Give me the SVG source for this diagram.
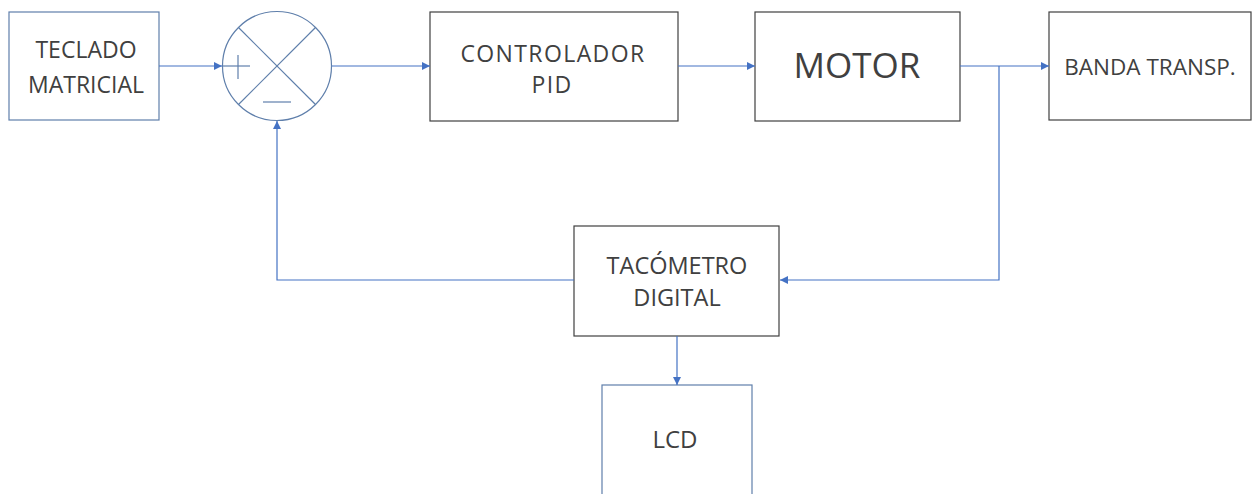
<svg xmlns="http://www.w3.org/2000/svg" width="1252" height="494" viewBox="0 0 1252 494">
<style>
.bx{fill:#fff;stroke:#404040;stroke-width:1.2}
.bb{fill:#fff;stroke:#5f7fab;stroke-width:1.2}
.t{font-family:"Open Sans","Noto Sans",sans-serif;fill:#404040;text-anchor:middle}
.c{fill:none;stroke:#4472c4;stroke-width:1.2}
.s{fill:none;stroke:#5f7fab;stroke-width:1.2}
</style>
<defs>
<marker id="ar" viewBox="0 0 10 10" refX="10" refY="5" markerWidth="8" markerHeight="8" markerUnits="userSpaceOnUse" orient="auto">
<path d="M0,0 L10,5 L0,10 z" fill="#4472c4"/>
</marker>
</defs>
<rect width="1252" height="494" fill="#fff"/>
<g id="teclado">
<rect class="bb" x="9" y="12" width="150" height="108"/>
<text class="t" x="86" y="58" font-size="23">TECLADO</text>
<text class="t" x="86" y="93" font-size="23">MATRICIAL</text>
</g>
<g id="sumador">
<circle class="s" cx="277" cy="66" r="54.5"/>
<line class="s" x1="238.5" y1="27.5" x2="315.5" y2="104.5"/>
<line class="s" x1="315.5" y1="27.5" x2="238.5" y2="104.5"/>
<line class="s" x1="222" y1="66" x2="250" y2="66"/>
<line class="s" x1="238" y1="55" x2="238" y2="79"/>
<line class="s" x1="263" y1="102" x2="291" y2="102"/>
</g>
<g id="controlador">
<rect class="bx" x="430" y="12" width="248" height="109"/>
<text class="t" x="553" y="62" font-size="23" letter-spacing="1.4">CONTROLADOR</text>
<text class="t" x="552" y="93" font-size="23" letter-spacing="1.4">PID</text>
</g>
<g id="motor">
<rect class="bx" x="755" y="12" width="205" height="109"/>
<text class="t" x="857" y="78" font-size="35">MOTOR</text>
</g>
<g id="banda">
<rect class="bx" x="1049" y="12" width="202" height="108"/>
<text class="t" x="1150" y="75" font-size="22.5">BANDA TRANSP.</text>
</g>
<g id="tacometro">
<rect class="bx" x="574" y="226" width="205" height="110"/>
<text class="t" x="677" y="274" font-size="23.5">TACÓMETRO</text>
<text class="t" x="677" y="306" font-size="23.5">DIGITAL</text>
</g>
<g id="lcd">
<rect class="bb" x="602" y="385" width="150" height="120"/>
<text class="t" x="675" y="448" font-size="24">LCD</text>
</g>
<g id="connectors">
<line class="c" x1="159" y1="66" x2="222" y2="66" marker-end="url(#ar)"/>
<line class="c" x1="332" y1="66" x2="430" y2="66" marker-end="url(#ar)"/>
<line class="c" x1="678" y1="66" x2="755" y2="66" marker-end="url(#ar)"/>
<line class="c" x1="960" y1="66" x2="1049" y2="66" marker-end="url(#ar)"/>
<polyline class="c" points="999,66 999,280 780,280" marker-end="url(#ar)"/>
<polyline class="c" points="574,280 277,280 277,121" marker-end="url(#ar)"/>
<line class="c" x1="677" y1="336" x2="677" y2="385" marker-end="url(#ar)"/>
</g>
</svg>
